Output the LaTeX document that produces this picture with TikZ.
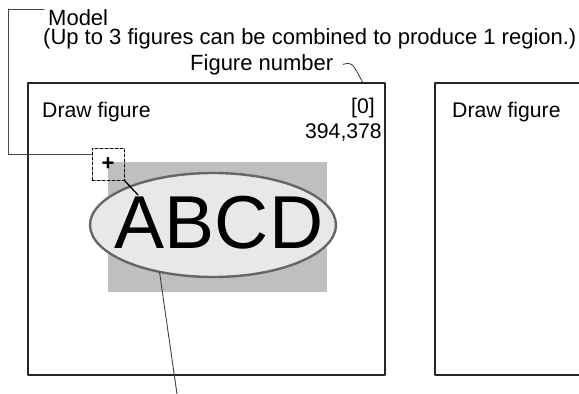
\documentclass[tikz,border=0pt]{standalone}
\usepackage{fontspec}
\setmainfont{Liberation Sans}
\usetikzlibrary{shapes.geometric}
\begin{document}
\begin{tikzpicture}[x=1pt, y=-1pt, font=\fontsize{21.2}{24}\selectfont, line join=round, line cap=round]
	\tikzset{frame style/.style={draw=black!85, line width=1.3pt},
		leader style/.style={draw=black!80, line width=1pt, densely dotted},
		label style/.style={inner sep=0pt, anchor=base west},
		note style/.style={label style, font=\fontsize{22}{19}\selectfont}}
	
	\def \boxtop{83}
	\def \boxbot{375}
	\useasboundingbox (0,0) rectangle (579,394);
	\draw[frame style] (28,\boxtop) rectangle (385,\boxbot);
	\draw[frame style] (579,\boxtop) -- (435,\boxtop) -- (435,\boxbot) -- (579,\boxbot);
	\node[label style] (title) at (42,117) {Draw figure};
	\node[label style] (title2) at (452,117) {Draw figure};
	\node[inner sep=0pt, anchor=base east] (num) at (375,113) {[0]};
	\node[inner sep=0pt, anchor=base east] (pos) at (382,138) {394,378};
	\node[note style, align=left] (model) at (43,44) {\hspace{5pt}Model\\(Up to 3 figures can be combined to produce 1 region.)};
	\node[note style] (fignum) at (190,70) {Figure number};
	
	\fill[black!25] (108,162) rectangle (327,292);
	\node[ellipse, draw=black!60, fill=black!9, line width=2.4pt, minimum width=246pt, minimum height=104pt] (region) at (213,225) {};
	\node[inner sep=0pt, anchor=base, font=\fontsize{75}{80}\selectfont] (abcd) at (219,248) {ABCD};
	\node[draw, densely dashed, line width=1pt, minimum size=32pt, inner sep=0pt, font=\fontsize{22}{22}\selectfont\bfseries] (plus) at (108,164) {+};
	
	\coordinate (corner) at (8,9);
	\draw[line width=1.3pt] (plus.south east) -- (138,195);
	\draw[leader style] ([xshift=1pt]model.north west |- corner) -- (corner) -- (8,154) -- (plus.west |- 0,154);
	\draw[leader style] ([xshift=10pt]fignum.east) .. controls (352,62) .. (363,83);
	\draw[leader style] (region.222) -- (177,394);
\end{tikzpicture}
\end{document}
